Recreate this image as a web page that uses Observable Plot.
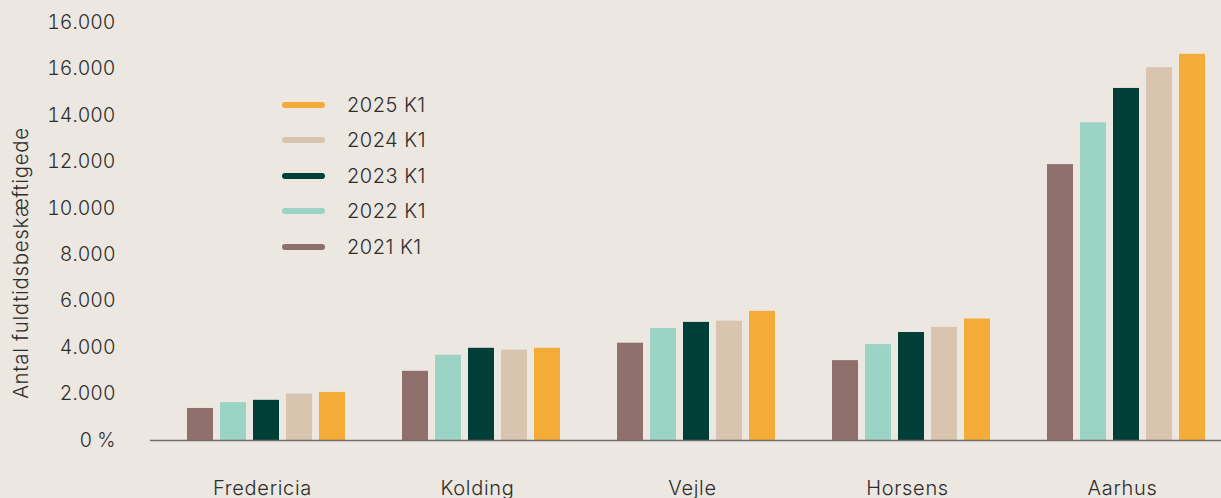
<!DOCTYPE html>
<html>
<head>
<meta charset="utf-8">
<script src="https://cdn.jsdelivr.net/npm/d3@7"></script>
<script src="https://cdn.jsdelivr.net/npm/@observablehq/plot@0.6"></script>
<style>
  html, body { margin: 0; padding: 0; background: #ECE7E0; }
  #wrap { position: relative; width: 1221px; height: 498px; font-family: Inter, "Noto Sans", sans-serif; color: #2d2d2d; font-weight: 300; }
  #wrap svg text { font-weight: 300; }
  #wrap svg g[aria-label="x-axis tick label"] text { letter-spacing: 0.7px; }
  #ylabel { position: absolute; left: 20px; top: 263px; transform: translate(-50%, -50%) rotate(-90deg); font-size: 20.5px; white-space: nowrap; letter-spacing: 0.65px; }
  #legend { position: absolute; left: 282px; top: 87px; font-size: 20px; letter-spacing: 0.5px; }
  .item { display: flex; align-items: center; height: 35.5px; }
  .swatch { width: 43px; height: 6px; border-radius: 3px; margin-right: 22px; }
</style>
</head>
<body>
<div id="wrap"></div>
<script>
const cities = ["Fredericia", "Kolding", "Vejle", "Horsens", "Aarhus"];
const years = ["2021 K1", "2022 K1", "2023 K1", "2024 K1", "2025 K1"];
const v2021 = [1380, 2980, 4190, 3440, 11880];
const v2022 = [1630, 3670, 4825, 4130, 13680];
const v2023 = [1730, 3970, 5085, 4650, 15160];
const v2024 = [2000, 3890, 5140, 4870, 16055];
const v2025 = [2070, 3970, 5560, 5230, 16630];
const seriesValues = [v2021, v2022, v2023, v2024, v2025];
const colors = ["#8F706C", "#9BD3C4", "#003F37", "#D9C4AF", "#F5AB37"];
const yTicks = [0, 2000, 4000, 6000, 8000, 10000, 12000, 14000, 16000, 18000];
const yTickLabels = ["0 %", "2.000", "4.000", "6.000", "8.000", "10.000", "12.000", "14.000", "16.000", "16.000"];
const yLabel = "Antal fuldtidsbeskæftigede";

const data = [];
years.forEach((yr, i) => cities.forEach((c, j) => data.push({city: c, year: yr, value: seriesValues[i][j]})));

const step = 33;
const barMarks = years.map((yr, i) => Plot.barY(data.filter(d => d.year === yr), {
  x: "city", y: "value", fill: colors[i], dx: (i - 2) * step, insetLeft: 0, insetRight: 0
}));

const chart = Plot.plot({
  width: 1221,
  height: 498,
  marginLeft: 150,
  marginRight: 0,
  marginTop: 22,
  marginBottom: 58,
  style: {background: "transparent", fontFamily: "Inter, 'Noto Sans', sans-serif", fontSize: "20px", color: "#2d2d2d", overflow: "visible"},
  x: {domain: cities, range: [158.5, 1233.5], paddingInner: 0.879, paddingOuter: 0.4395},
  y: {domain: [0, 18000]},
  marks: [
    ...barMarks,
    Plot.ruleY([0], {stroke: "#6e6e6e", strokeWidth: 1.5}),
    Plot.axisX({tickSize: 0, tickPadding: 40, label: null, fontSize: 20, dx: -4}),
    Plot.axisY({ticks: yTicks, tickSize: 0, tickPadding: 35, label: null, fontSize: 19.5,
      tickFormat: d => yTickLabels[yTicks.indexOf(d)]})
  ]
});

const wrap = document.getElementById("wrap");
wrap.appendChild(chart);
const yl = document.createElement("div");
yl.id = "ylabel";
yl.textContent = yLabel;
wrap.appendChild(yl);
const legend = document.createElement("div");
legend.id = "legend";
for (let i = years.length - 1; i >= 0; i--) {
  const it = document.createElement("div");
  it.className = "item";
  const sw = document.createElement("span");
  sw.className = "swatch";
  sw.style.background = colors[i];
  const tx = document.createElement("span");
  tx.textContent = years[i];
  it.appendChild(sw); it.appendChild(tx);
  legend.appendChild(it);
}
wrap.appendChild(legend);
</script>
</body>
</html>
